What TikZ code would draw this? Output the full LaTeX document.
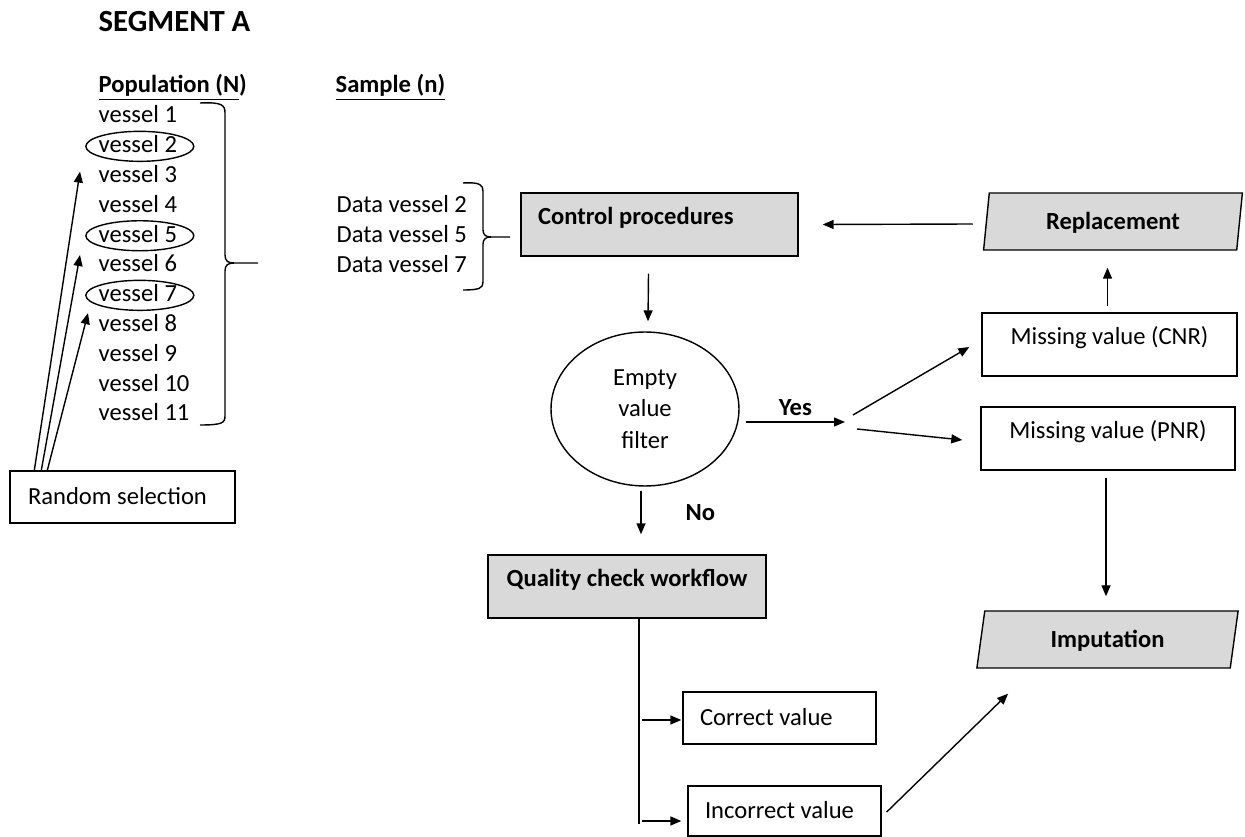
\documentclass[tikz,border=0pt]{standalone}
\usepackage{fontspec}
\setmainfont{Carlito}
\usetikzlibrary{positioning,arrows.meta,shapes.geometric,calc}
\definecolor{procgray}{HTML}{D9D9D9}
\newcommand{\dgfont}{\fontsize{14}{18}\selectfont}

\begin{document}
\begin{tikzpicture}[
  x=0.02cm, y=-0.02cm,
  line width=0.8pt,
  txt/.style={anchor=base west, inner sep=0pt, font=\dgfont},
  head/.style={anchor=base west, inner sep=0pt, font=\dgfont\bfseries},
  gbox/.style={draw, fill=procgray, font=\dgfont\bfseries, align=flush left, inner xsep=0.34cm, inner ysep=0pt, text height=7pt, text depth=7pt, minimum height=1.26cm},
  wbox/.style={draw, font=\dgfont, inner sep=0pt, text height=7pt, text depth=7pt, minimum height=1.26cm},
  vbox/.style={draw, font=\dgfont, align=flush left, inner xsep=0.34cm, inner ysep=0pt, text height=9pt, text depth=0pt},
  io/.style={draw, fill=procgray, trapezium, trapezium stretches=true, font=\dgfont\bfseries, text height=9pt, text depth=0pt, minimum height=1.14cm, inner sep=0pt},
  arr/.style={-{Triangle[length=2.2mm,width=1.8mm]}},
  lab/.style={font=\dgfont\bfseries}
]
\useasboundingbox (0,0) rectangle (1245,837);

% headings
\node[head, font=\fontsize{17.5}{20}\selectfont\bfseries] (title) at (98,32) {SEGMENT A};
\node[head] (pophead) at (98,93) {\underline{Population (N})};
\node[head] (samphead) at (335,93) {\underline{Sample (n)}};

% population and sample
\foreach \k in {1,...,11}
  \node[txt] (v\k) at (98,{123+(\k-1)*29.8}) {vessel \k};
\foreach \k in {2,5,7}
  \draw ($(v\k.center)+(2,2)$) ellipse [x radius=1.08cm, y radius=0.3cm];
\draw (200,103) .. controls (222,102) and (225,105) .. (225,113) -- (225,255)
  .. controls (225,261) and (228,263) .. (234,263) -- (258,263);
\draw (234,263) .. controls (228,263) and (225,265) .. (225,271) -- (225,416)
  .. controls (225,423) and (222,425) .. (200,425);

\foreach \k/\y in {2/213,5/243,7/273}
  \node[txt] (d\k) at (336,\y) {Data vessel \k};
\draw (463,183) .. controls (480,182) and (483,185) .. (483,191) -- (483,230)
  .. controls (483,235) and (486,237) .. (491,237) -- (510,237);
\draw (491,237) .. controls (486,237) and (483,239) .. (483,244) -- (483,282)
  .. controls (483,288) and (480,290) .. (463,290);

% random selection
\node[vbox, text width=3.78cm, inner xsep=0.36cm, minimum height=1.04cm] (rsel) at (122.5,497) {Random selection};
\draw[arr] ($(rsel.north west)+(25,0)$) -- ($(v3.west)+(-18,-2.5)$);
\draw[arr] ($(rsel.north west)+(32,0)$) -- ($(v6.west)+(-18,-8.5)$);
\draw[arr] ($(rsel.north west)+(38,0)$) -- ($(v8.west)+(-10,-10)$);

% flow
\node[gbox, text width=4.86cm] (ctrl) at (659.5,224.5) {Control procedures};
\node[draw, ellipse, minimum width=3.76cm, minimum height=3.08cm, inner sep=0pt, align=center, font=\dgfont] (filter) at (645,409) {Empty\\value\\filter};
\node[wbox, fill=procgray, font=\dgfont\bfseries, minimum width=5.56cm] (qual) at (627,586.5) {Quality check workflow};
\node[vbox, text width=3.18cm, minimum height=1.04cm] (correct) at (779.5,718) {Correct value};
\node[vbox, text width=3.18cm, minimum height=1.0cm] (incorrect) at (784.5,811) {Incorrect value};
\node[wbox, minimum width=5.1cm] (cnr) at (1109.5,344.5) {Missing value (CNR)};
\node[wbox, minimum width=5.08cm] (pnr) at (1108,438.5) {Missing value (PNR)};
\node[io, trapezium left angle=79, trapezium right angle=101, minimum width=5.2cm] (repl) at (1113,221.5) {Replacement};
\node[io, trapezium left angle=77, trapezium right angle=103, minimum width=5.26cm] (imp) at (1107.5,639.5) {Imputation};

\draw[arr] ($(repl.west)+(-13,2.5)$) -- ($(ctrl.east)+(24,0)$);
\draw[arr] ($(ctrl.south)+(-11,17)$) -- ($(filter.north)+(3,-10)$);
\coordinate (split) at (850,422);
\draw[arr] ($(filter.east)+(6,13)$) -- node[lab, above] {Yes} ($(split)+(-5,0)$);
\draw[arr] ($(split)+(3,-7)$) -- ($(cnr.west)+(-12,2.5)$);
\draw[arr] ($(split)+(7,7)$) -- ($(pnr.west)+(-18,1.5)$);
\draw[arr] ($(cnr.north)+(-2,-6)$) -- ($(cnr.north |- repl.south)+(-2,17)$);
\draw[arr] ($(pnr.south)+(-2,7)$) -- ($(pnr.south |- imp.north)+(-2,-14)$);
\draw[arr] ($(filter.south)+(-4,4)$) -- node[lab, right=0.76cm] {No} ($(qual.north)+(14,-20)$);

\coordinate (trunk) at ($(qual.south)+(12,0)$);
\draw (trunk) -- ++(0,205);
\draw[arr] ($(trunk |- correct.west)+(3,2)$) -- ($(correct.west)+(-1,2)$);
\draw[arr] ($(trunk |- incorrect.west)+(3,10)$) -- ($(incorrect.west)+(-6,10)$);
\draw[arr] ($(incorrect.east)+(5,1)$) -- ($(imp.bottom left corner)+(32,25)$);
\end{tikzpicture}
\end{document}
